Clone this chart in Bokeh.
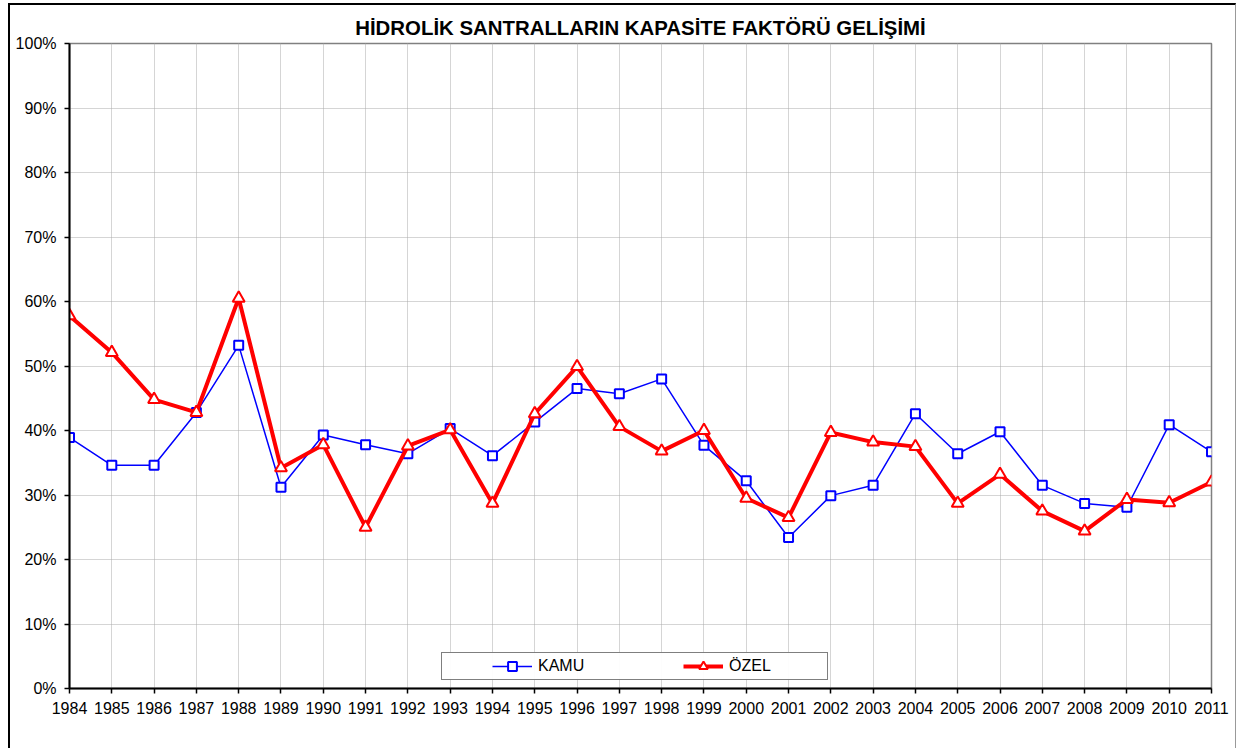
from bokeh.plotting import figure
from bokeh.layouts import column
from bokeh.models import FixedTicker, NumeralTickFormatter, Range1d, Legend, LegendItem
from bokeh.embed import file_html
from bokeh.resources import INLINE

title_text = "HİDROLİK SANTRALLARIN KAPASİTE FAKTÖRÜ GELİŞİMİ"
years = list(range(1984, 2012))
kamu = [38.9, 34.6, 34.6, 42.8, 53.2, 31.2, 39.3, 37.8, 36.4, 40.3,
        36.1, 41.3, 46.5, 45.7, 48.0, 37.7, 32.2, 23.4, 29.9, 31.5,
        42.6, 36.4, 39.8, 31.5, 28.7, 28.1, 40.9, 36.7]
ozel = [57.8, 52.1, 44.8, 42.8, 60.5, 34.2, 37.8, 25.0, 37.6, 40.1,
        28.7, 42.6, 49.9, 40.6, 36.8, 40.0, 29.5, 26.5, 39.7, 38.2,
        37.5, 28.7, 33.2, 27.5, 24.4, 29.3, 28.8, 32.0]
series_names = ["KAMU", "ÖZEL"]
y_ticks = [0.0, 0.1, 0.2, 0.3, 0.4, 0.5, 0.6, 0.7, 0.8, 0.9, 1.0]

kamu_f = [v / 100 for v in kamu]
ozel_f = [v / 100 for v in ozel]

FONT = "Liberation Sans"

p = figure(frame_width=1142, frame_height=645,
           x_range=Range1d(1984, 2011), y_range=Range1d(0, 1),
           output_backend="svg", toolbar_location=None,
           min_border_left=59, min_border_right=24, min_border_top=42, min_border_bottom=60,
           margin=(-4, 0, 0, 0))

p.title.text = title_text
p.title.align = "center"
p.title.text_font = FONT
p.title.text_font_size = "20.4px"
p.title.text_font_style = "bold"
p.title.text_color = "black"
p.title.standoff = 10

p.xaxis.ticker = FixedTicker(ticks=years)
p.yaxis.ticker = FixedTicker(ticks=y_ticks)
p.yaxis.formatter = NumeralTickFormatter(format="0%")
for ax in (p.xaxis, p.yaxis):
    ax.axis_line_color = "black"
    ax.axis_line_width = 2
    ax.major_tick_line_color = "black"
    ax.major_tick_line_width = 1.5
    ax.major_tick_out = 5
    ax.major_tick_in = 0
    ax.minor_tick_line_color = None
    ax.major_label_text_font = FONT
    ax.major_label_text_font_size = "16px"
    ax.major_label_text_color = "black"
p.xaxis.major_label_standoff = 8
p.yaxis.major_label_standoff = 8

p.xgrid.ticker = FixedTicker(ticks=years)
p.ygrid.ticker = FixedTicker(ticks=y_ticks)
for g in (p.xgrid, p.ygrid):
    g.grid_line_color = "#ababab"
    g.grid_line_dash = "1 1"
    g.grid_line_width = 1

p.outline_line_color = "#808080"
p.outline_line_width = 1.5
p.background_fill_color = "white"
p.border_fill_color = None

kl = p.line(years, kamu_f, line_color="#0000FF", line_width=1.5)
ks = p.scatter(years, kamu_f, marker="square", size=9, line_color="#0000FF",
               fill_color="white", line_width=2)
ol = p.line(years, ozel_f, line_color="#FF0000", line_width=4)
os_ = p.scatter(years, ozel_f, marker="triangle", size=12, line_color="#FF0000",
                fill_color="white", line_width=2)

legend = Legend(items=[LegendItem(label=series_names[0], renderers=[kl, ks]),
                       LegendItem(label=series_names[1], renderers=[ol, os_])],
                orientation="horizontal", location=(372, 8), padding=2, margin=0,
                spacing=49, glyph_width=40, glyph_height=22, label_height=22,
                label_width=96, label_standoff=6,
                title=" ", title_location="left", title_standoff=47,
                title_text_font_size="1px",
                border_line_color="black", border_line_width=1,
                background_fill_color="white", label_text_font=FONT,
                label_text_font_size="16px", label_text_color="black")
p.add_layout(legend)

root = column(p, margin=(3, 0, 0, 8),
              styles={"border-left": "2px solid black", "border-top": "2px solid black",
                      "border-right": "1px solid #999999"})

open("out.html", "w").write(file_html(root, INLINE))
